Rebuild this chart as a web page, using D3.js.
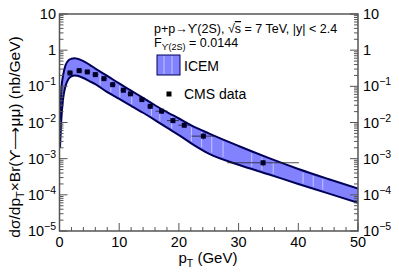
<!DOCTYPE html>
<html>
<head>
<meta charset="utf-8">
<script src="https://cdn.jsdelivr.net/npm/d3@7"></script>
<style>
  body { margin: 0; background: #fff; }
  svg { display: block; font-family: "Liberation Sans", Arial, sans-serif; }
</style>
</head>
<body>
<svg id="chart" width="399" height="272"></svg>
<script>
// ICEM band (upper / lower edges)
const bandPt    = [0.08, 0.3, 0.6, 1.0, 1.5, 2.0, 2.5, 3.0, 4.0, 5.0, 6.0, 8.0, 10, 12, 14, 16, 18, 20, 22, 25, 30, 35, 40, 45, 50];
const bandUpper = [0.012, 0.08, 0.2, 0.38, 0.52, 0.58, 0.6, 0.58, 0.5, 0.4, 0.31, 0.195, 0.12, 0.076, 0.048, 0.030, 0.0195, 0.0129, 0.0085, 0.0050, 0.00224, 0.00105, 0.00052, 0.000275, 0.00015];
const bandLower = [0.002, 0.012, 0.045, 0.1, 0.16, 0.19, 0.2, 0.195, 0.17, 0.14, 0.115, 0.069, 0.045, 0.029, 0.0186, 0.0117, 0.0072, 0.0045, 0.0027, 0.00138, 0.00068, 0.00037, 0.0002, 0.00011, 0.00006];

// light seams seen inside the filled band
const seams = [6.8, 8.6, 10.1, 12.1, 15.4, 16.8, 18.8, 22.1, 23.8, 25.5, 27.4, 32.2, 33.9, 35.8, 40.8, 42.5, 44.1];

// CMS data points
const cmsPt   = [1.76, 3.3, 4.66, 6.0, 7.45, 8.9, 10.7, 11.9, 13.8, 15.2, 17.1, 19.0, 20.9, 24.1, 34.1];
const cmsVal  = [0.234, 0.272, 0.25, 0.211, 0.163, 0.111, 0.078, 0.062, 0.043, 0.028, 0.0205, 0.0113, 0.0084, 0.0042, 0.00077];
const cmsXerr = [0.5, 0.5, 0.5, 0.5, 0.5, 0.5, 0.5, 0.5, 0.5, 0.5, 1, 1, 1, 2, 6];
const cmsYerr = [0.15, 0.12, 0.12, 0.12, 0.12, 0.12, 0.12, 0.12, 0.14, 0.14, 0.14, 0.16, 0.16, 0.18, 0.2];

const xTicks = [0, 10, 20, 30, 40, 50];
const yExps  = [1, 0, -1, -2, -3, -4, -5];

const svg = d3.select("#chart");
const L = 59.5, R = 358, T = 14, B = 231;

const x = d3.scaleLinear().domain([0, 50]).range([L, R]);
const y = d3.scaleLog().domain([1e-5, 10]).range([B, T]);

svg.append("defs").append("clipPath").attr("id", "plot")
  .append("rect").attr("x", L).attr("y", T).attr("width", R - L).attr("height", B - T);

const band = bandPt.map((p, i) => ({ p, hi: bandUpper[i], lo: bandLower[i] }));
const g = svg.append("g").attr("clip-path", "url(#plot)");

g.append("path").datum(band)
  .attr("fill", "#8282ff")
  .attr("d", d3.area().x(d => x(d.p)).y0(d => y(d.lo)).y1(d => y(d.hi)).curve(d3.curveMonotoneX));

// seams: interpolate band edges in log space
const hiAt = p => Math.exp(d3.scaleLinear().domain(bandPt).range(bandUpper.map(Math.log))(p));
const loAt = p => Math.exp(d3.scaleLinear().domain(bandPt).range(bandLower.map(Math.log))(p));
g.selectAll(".seam").data(seams).join("line")
  .attr("x1", d => x(d)).attr("x2", d => x(d))
  .attr("y1", d => y(hiAt(d)) + 2).attr("y2", d => y(loAt(d)) - 2)
  .attr("stroke", "#c4c4ff").attr("stroke-width", 1);

const edge = k => d3.line().x(d => x(d.p)).y(d => y(d[k])).curve(d3.curveMonotoneX);
["hi", "lo"].forEach(k => {
  g.append("path").datum(band).attr("fill", "none")
    .attr("stroke", "#00005a").attr("stroke-width", 2).attr("d", edge(k));
});

// data points
const pts = cmsPt.map((p, i) => ({ p, v: cmsVal[i], ex: cmsXerr[i], ey: cmsYerr[i] }));
const dp = g.append("g");
dp.selectAll(".xe").data(pts).join("line")
  .attr("x1", d => x(d.p - d.ex)).attr("x2", d => x(d.p + d.ex))
  .attr("y1", d => y(d.v)).attr("y2", d => y(d.v))
  .attr("stroke", "#222").attr("stroke-width", 0.8);
dp.selectAll(".ye").data(pts).join("line")
  .attr("x1", d => x(d.p)).attr("x2", d => x(d.p))
  .attr("y1", d => y(d.v * (1 + d.ey))).attr("y2", d => y(d.v * (1 - d.ey)))
  .attr("stroke", "#222").attr("stroke-width", 0.8);
dp.selectAll("rect").data(pts).join("rect")
  .attr("x", d => x(d.p) - 2.5).attr("y", d => y(d.v) - 2.5)
  .attr("width", 5).attr("height", 5).attr("fill", "#000028");

// frame + ticks
const axisCol = "#555";
svg.append("rect").attr("x", L).attr("y", T).attr("width", R - L).attr("height", B - T)
  .attr("fill", "none").attr("stroke", axisCol).attr("stroke-width", 1.5);

const xMinor = d3.range(0, 51, 2);
svg.selectAll(".xt").data(xMinor).join("line")
  .attr("x1", d => x(d)).attr("x2", d => x(d))
  .attr("y1", B).attr("y2", d => B - (d % 10 === 0 ? 8 : 4))
  .attr("stroke", axisCol).attr("stroke-width", 1);

const yMinor = [];
for (let e = -5; e < 1; e++) for (let m = 1; m < 10; m++) yMinor.push({ v: m * Math.pow(10, e), major: m === 1 });
yMinor.push({ v: 10, major: true });
[[L, 1], [R, -1]].forEach(([x0, s]) => {
  svg.append("g").selectAll("line").data(yMinor).join("line")
    .attr("x1", x0).attr("x2", d => x0 + s * (d.major ? 8 : 4))
    .attr("y1", d => y(d.v)).attr("y2", d => y(d.v))
    .attr("stroke", axisCol).attr("stroke-width", 1);
});

// tick labels
svg.selectAll(".xl").data(xTicks).join("text")
  .attr("x", d => x(d)).attr("y", 247)
  .attr("text-anchor", "middle").attr("font-size", 14.5).text(d => d);

function yLabel(sel, e) {
  if (e === 1) sel.text("10");
  else if (e === 0) sel.text("1");
  else {
    sel.append("tspan").text("10");
    sel.append("tspan").attr("dy", -6).attr("font-size", 10.5).text("\u2212" + (-e));
  }
}
yExps.forEach(e => {
  const yy = y(Math.pow(10, e)) + 5;
  const left = svg.append("text").attr("x", 56).attr("y", yy).attr("text-anchor", "end").attr("font-size", 14.5);
  yLabel(left, e);
  const right = svg.append("text").attr("x", 363).attr("y", yy).attr("font-size", 14.5);
  yLabel(right, e);
});

// axis titles
const xt = svg.append("text").attr("x", 208).attr("y", 263).attr("text-anchor", "middle").attr("font-size", 15);
xt.append("tspan").text("p");
xt.append("tspan").attr("dy", 4).attr("font-size", 10.5).text("T");
xt.append("tspan").attr("dy", -4).text(" (GeV)");

const yt = svg.append("text").attr("transform", "translate(20,137) rotate(-90)")
  .attr("text-anchor", "middle").attr("font-size", 15.5);
yt.append("tspan").text("d\u03c3/dp");
yt.append("tspan").attr("dy", 4).attr("font-size", 11).text("T");
yt.append("tspan").attr("dy", -4).text("\u00d7Br(\u03d2\u27f6\u03bc\u03bc) (nb/GeV)");

// header text
const h1 = svg.append("text").attr("x", 154).attr("y", 33).attr("font-size", 12.5);
h1.append("tspan").text("p+p\u2192\u03d2(2S), \u221a");
h1.append("tspan").attr("text-decoration", "overline").text("s");
h1.append("tspan").text(" = 7 TeV, |y| < 2.4");
const h2 = svg.append("text").attr("x", 154).attr("y", 47).attr("font-size", 12.5);
h2.append("tspan").text("F");
h2.append("tspan").attr("dy", 3).attr("font-size", 9).text("\u03d2(2S)");
h2.append("tspan").attr("dy", -3).text(" = 0.0144");

// legend
svg.append("rect").attr("x", 157).attr("y", 55).attr("width", 23).attr("height", 20)
  .attr("fill", "#8282ff").attr("stroke", "#00005a").attr("stroke-width", 1);
[164, 172].forEach(xx => svg.append("line").attr("x1", xx).attr("x2", xx).attr("y1", 56).attr("y2", 74)
  .attr("stroke", "#c4c4ff"));
svg.append("text").attr("x", 184).attr("y", 71).attr("font-size", 14).text("ICEM");
svg.append("rect").attr("x", 166.5).attr("y", 91.5).attr("width", 5).attr("height", 5).attr("fill", "#000");
svg.append("text").attr("x", 184).attr("y", 99).attr("font-size", 14).text("CMS data");
</script>
</body>
</html>
